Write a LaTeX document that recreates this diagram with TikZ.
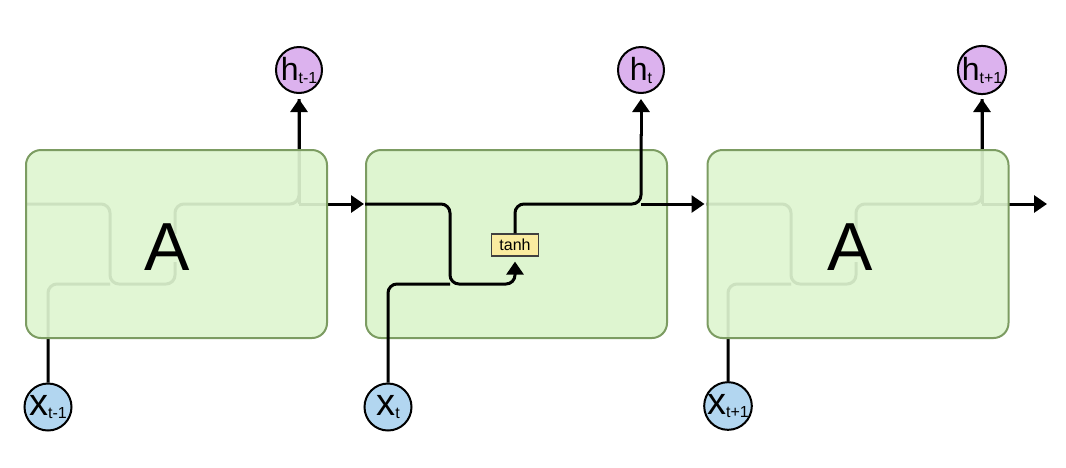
\documentclass[tikz,border=0pt]{standalone}
\usepackage{fontspec}
\setmainfont{Liberation Sans}
\usetikzlibrary{arrows.meta,calc}
\definecolor{boxfill}{RGB}{222,245,208}
\definecolor{boxedge}{RGB}{124,156,98}
\definecolor{hfill}{RGB}{220,178,238}
\definecolor{xfill}{RGB}{178,214,240}
\definecolor{tanhfill}{RGB}{250,236,160}
\begin{document}
\begin{tikzpicture}[x=1pt,y=-1pt,
  cell/.style={draw=boxedge, line width=2pt, fill=boxfill, rounded corners=15pt,
    minimum width=301pt, minimum height=188pt, inner sep=0pt},
  fadedcell/.style={cell, fill opacity=0.92},
  bigA/.style={inner sep=0pt, font=\fontsize{68}{68}\selectfont},
  hnode/.style={circle, draw=black, line width=2pt, fill=hfill, minimum size=46pt, inner sep=0pt},
  xnode/.style={circle, draw=black, line width=2pt, fill=xfill, minimum size=47pt, inner sep=0pt},
  wire/.style={line width=3pt, rounded corners=9pt},
  arr/.style={wire, -{Triangle[length=13pt,width=17pt]}},
  tanhbox/.style={draw=black!75, line width=1.2pt, fill=tanhfill, minimum width=47pt,
    minimum height=22pt, inner sep=0pt, font=\fontsize{16}{16}\selectfont},
]
\useasboundingbox (0,0) rectangle (1066,467);
\newcommand{\hlab}[1]{{\fontsize{32}{32}\selectfont h}\raisebox{-3pt}{\fontsize{16}{16}\selectfont #1}}
\newcommand{\xlab}[1]{{\fontsize{38}{38}\selectfont x}\raisebox{-3pt}{\fontsize{16}{16}\selectfont #1}}

% reference coordinates
\coordinate (hy) at (0,204);
\coordinate (ly) at (0,284);
\coordinate (out) at (1047,204);

% node positions (shapes drawn later)
\path (176.5,244) coordinate (c1) (516.5,244) coordinate (c2) (858,244) coordinate (c3);

% middle cell first
\node[cell] (A2) at (c2) {};

% hidden structure of cells 1 and 3 (seen through the box)
\path (299,70) node[hnode, opacity=0] (h1p) {} (48,407) node[xnode, opacity=0] (x1p) {};
\node[cell, draw=none, fill=none] (A1) at (c1) {};
\node[cell, draw=none, fill=none] (A3) at (c3) {};
\path (982,70) node[hnode, opacity=0] (h3p) {} (728,406) node[xnode, opacity=0] (x3p) {};

\coordinate (j1) at (110,204);
\coordinate (t1) at (175,245);
\draw[wire] (A1.west |- hy) -- (j1) -- (j1 |- ly) -- ($(t1 |- ly)$) -- ($(t1)+(0,17)$);
\draw[wire] (x1p.north) -- (x1p.north |- ly) -- (j1 |- ly);
\draw[wire] ($(t1)+(0,-11)$) -- (t1 |- hy) -- (h1p.south |- hy) -- ($(h1p.south)+(0,5)$);
\draw[arr, shorten >=5pt] (h1p.south |- hy) -- (h1p.south);
\draw[arr, shorten >=1pt] (h1p.south |- hy) -- (A2.west |- hy);

\coordinate (j3) at (791,204);
\coordinate (t3) at (856,245);
\draw[wire] (A3.west |- hy) -- (j3) -- (j3 |- ly) -- ($(t3 |- ly)$) -- ($(t3)+(0,17)$);
\draw[wire] (x3p.north) -- (x3p.north |- ly) -- (j3 |- ly);
\draw[wire] ($(t3)+(0,-11)$) -- (t3 |- hy) -- (h3p.south |- hy) -- ($(h3p.south)+(0,5)$);
\draw[arr, shorten >=5pt] (h3p.south |- hy) -- (h3p.south);
\draw[arr] (h3p.south |- hy) -- (out);

% outer cells on top (semi-transparent)
\node[fadedcell] at (c1) {};
\node[fadedcell] at (c3) {};
\node[bigA] (a1) at (167,247) {A};
\node[bigA] (a3) at (850,247.5) {A};

% middle cell wiring
\node[tanhbox] (tanh) at (515,245) {tanh};
\node[hnode] (h2) at (641,70) {\hlab{t}};
\node[xnode] (x2) at (388,407) {\xlab{t}};
\coordinate (j2) at (450,204);
\draw[wire] (A2.west |- hy) -- (j2) -- (j2 |- ly) -- (tanh.south |- ly) -- ($(tanh.south)+(0,10)$);
\draw[arr, shorten >=5pt] ($(tanh.south)+(0,12)$) -- (tanh.south);
\draw[wire] (x2.north) -- (x2.north |- ly) -- (j2 |- ly);
\draw[wire] (tanh.north) -- (tanh.north |- hy) -- (h2.south |- hy) -- ($(h2.south)+(0,40)$);
\draw[arr, shorten >=5pt] ($(h2.south)+(0,42)$) -- (h2.south);
\draw[arr, shorten >=2pt] (h2.south |- hy) -- (A3.west |- hy);

% circles
\node[hnode] (h1) at (h1p) {\hlab{t-1}};
\node[xnode] (x1) at (x1p) {\xlab{t-1}};
\node[hnode] (h3) at (h3p) {\hlab{t+1}};
\node[xnode] (x3) at (x3p) {\xlab{t+1}};
\end{tikzpicture}
\end{document}
